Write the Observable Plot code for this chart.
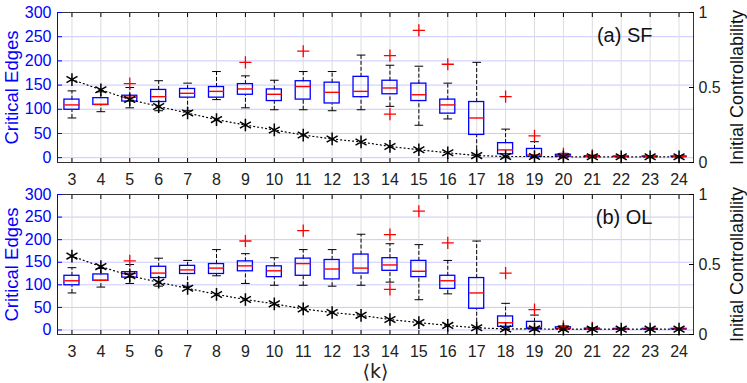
<!DOCTYPE html>
<html><head><meta charset="utf-8">
<script src="https://cdn.jsdelivr.net/npm/d3@7"></script>
<script src="https://cdn.jsdelivr.net/npm/@observablehq/plot@0.6"></script>
<style>
body{margin:0;background:#fff;}
#chart svg{display:block;}
</style></head><body><div id="chart"></div>
<script>
// ---- data ----
const ks = [3,4,5,6,7,8,9,10,11,12,13,14,15,16,17,18,19,20,21,22,23,24];
const leftTicks = [0,50,100,150,200,250,300];
const ctrlTicks = [0, 0.5, 1];
const ctrlTickLabels = ["0", "0.5", "1"];

// SF panel
const sfQ1  = [99,109,116,115,124,124,130,117,120,112,125,131,117,91,47,7,2,2,1.5,1.5,1.5,1.5];
const sfMed = [109,110,125,126,133,137,142,131,147,135,137,144,130,109,82,16,5.5,4,2,2,2,2];
const sfQ3  = [120,123,128,140,142,146,152,141,158,155,167,159,153,120,115,30,18,6,3,2.5,2.5,2.5];
const sfLo  = [82,95,103,97,97,120,103,99,99,97,99,106,67,80,5,1,0,0.5,1,1,1,1];
const sfHi  = [138,136,145,159,154,178,169,160,178,178,212,191,189,154,197,59,33,9,4,3,3,3];
const sfOutK = [5,9,11,14,14,15,16,18,19,20,21];
const sfOutV = [153,197,220,211,90,263,193,126,45,8,5];
const sfCtrl = [0.553,0.485,0.42,0.373,0.33,0.286,0.25,0.217,0.183,0.157,0.137,0.107,0.085,0.065,0.046,0.04,0.04,0.038,0.038,0.038,0.038,0.038];

// OL panel
const olQ1  = [99,109,116,115,124,124,130,117,120,112,125,131,117,91,47,7,2,2,1.5,1.5,1.5,1.5];
const olMed = [109,110,125,126,133,137,142,131,147,135,137,144,130,109,82,16,5.5,4,2,2,2,2];
const olQ3  = [120,123,128,140,142,146,152,141,158,155,167,159,153,120,115,30,18,6,3,2.5,2.5,2.5];
const olLo  = [82,95,103,97,97,120,103,99,99,97,99,106,67,80,5,1,0,0.5,1,1,1,1];
const olHi  = [138,136,145,159,154,178,169,160,178,178,212,191,189,154,197,59,33,9,4,3,3,3];
const olOutK = [5,9,11,14,14,15,16,18,19,20,21];
const olOutV = [153,197,220,211,90,263,193,126,45,8,5];
const olCtrl = [0.56,0.485,0.42,0.373,0.33,0.286,0.25,0.219,0.183,0.157,0.137,0.107,0.085,0.065,0.048,0.04,0.04,0.038,0.038,0.038,0.038,0.038];

// ---- drawing ----
const BLUE = "#0000ff";
const yMin = -10, yMax = 300;
const xDomain = [2.5, 24.5];
const toLeft = c => yMin + c * (yMax - yMin);
const ctrlTickPos = ctrlTicks.map(toLeft);
const ctrlLabel = new Map(ctrlTickPos.map((v, i) => [v, ctrlTickLabels[i]]));

function panel(tag, d, {height, marginTop, marginBottom, xTitle}) {
  const rows = ks.map((k, i) => ({k, q1: d.q1[i], med: d.med[i], q3: d.q3[i], lo: d.lo[i], hi: d.hi[i], c: toLeft(d.ctrl[i])}));
  const outs = d.outK.map((k, i) => ({k, v: d.outV[i]}));
  const hw = 0.26, cw = 0.15;
  const marks = [
    Plot.gridY(leftTicks, {stroke: "#c9c9ff", strokeOpacity: 1}),
    Plot.gridX(ks, {stroke: "#dcdcdc", strokeOpacity: 1}),
    Plot.frame({stroke: "#333"}),
    Plot.ruleX([xDomain[0]], {stroke: BLUE}),
    Plot.axisY(leftTicks, {anchor: "left", tickSize: 0, tickPadding: 6, color: BLUE, label: null, fontSize: 16}),
    Plot.axisY(leftTicks, {anchor: "left", tickSize: -5, tickFormat: () => "", color: BLUE, label: null}),
    Plot.axisY(ctrlTickPos, {anchor: "right", tickSize: 0, tickPadding: 5, tickFormat: v => ctrlLabel.get(v), color: "#222", label: null, fontSize: 16}),
    Plot.axisY(ctrlTickPos, {anchor: "right", tickSize: -5, tickFormat: () => "", color: "black", label: null}),
    Plot.axisX(ks, {anchor: "bottom", tickSize: 0, tickPadding: 11, color: "#222", label: null, fontSize: 16}),
    Plot.axisX(ks, {anchor: "bottom", tickSize: -4, tickFormat: () => "", color: "black", label: null}),
    Plot.axisX(ks, {anchor: "top", tickSize: -4, tickFormat: () => "", color: "black", label: null}),
    // whiskers
    Plot.link(rows, {x1: "k", x2: "k", y1: "q3", y2: "hi", stroke: "black", strokeDasharray: "4,2"}),
    Plot.link(rows, {x1: "k", x2: "k", y1: "lo", y2: "q1", stroke: "black", strokeDasharray: "4,2"}),
    Plot.link(rows, {x1: r => r.k - cw, x2: r => r.k + cw, y1: "hi", y2: "hi", stroke: "black"}),
    Plot.link(rows, {x1: r => r.k - cw, x2: r => r.k + cw, y1: "lo", y2: "lo", stroke: "black"}),
    // boxes
    Plot.rect(rows, {x1: r => r.k - hw, x2: r => r.k + hw, y1: "q1", y2: "q3", stroke: BLUE, fill: "none", strokeWidth: 1.3}),
    Plot.link(rows, {x1: r => r.k - hw, x2: r => r.k + hw, y1: "med", y2: "med", stroke: "red", strokeWidth: 1.4}),
    Plot.dot(outs, {x: "k", y: "v", symbol: "plus", r: 4, stroke: "red", strokeWidth: 1.3}),
    // controllability
    Plot.line(rows, {x: "k", y: "c", stroke: "black", strokeDasharray: "1,3", strokeWidth: 1.2}),
    Plot.dot(rows, {x: "k", y: "c", symbol: "asterisk", r: 6, stroke: "black", strokeWidth: 1.5}),
    // labels
    Plot.text([tag], {frameAnchor: "top-right", textAnchor: "end", dx: -41, dy: 15, fontSize: 20, fill: "#111"}),
    Plot.text(["Critical Edges"], {frameAnchor: "left", textAnchor: "middle", lineAnchor: "middle", rotate: -90, dx: -45, fill: BLUE, fontSize: 18.5}),
    Plot.text(["Initial Controllability"], {frameAnchor: "right", textAnchor: "middle", lineAnchor: "middle", rotate: -90, dx: 44, fill: "#111", fontSize: 18})
  ];
  if (xTitle) marks.push(Plot.text([xTitle], {frameAnchor: "bottom", lineAnchor: "middle", dy: 37, fontSize: 19, fill: "#222", fontFamily: "'DejaVu Sans', sans-serif"}));
  return Plot.plot({
    width: 747, height, marginLeft: 57, marginRight: 54, marginTop, marginBottom,
    style: {fontFamily: "'Liberation Sans', Arial, sans-serif", fontSize: "16px", background: "white", overflow: "visible"},
    x: {domain: xDomain},
    y: {domain: [yMin, yMax]},
    marks
  });
}

const chart = document.getElementById("chart");
chart.append(panel("(a) SF", {q1: sfQ1, med: sfMed, q3: sfQ3, lo: sfLo, hi: sfHi, outK: sfOutK, outV: sfOutV, ctrl: sfCtrl},
  {height: 186, marginTop: 12, marginBottom: 24}));
chart.append(panel("(b) OL", {q1: olQ1, med: olMed, q3: olQ3, lo: olLo, hi: olHi, outK: olOutK, outV: olOutV, ctrl: olCtrl},
  {height: 197, marginTop: 8, marginBottom: 49, xTitle: "⟨k⟩"}));
</script>
</body></html>
